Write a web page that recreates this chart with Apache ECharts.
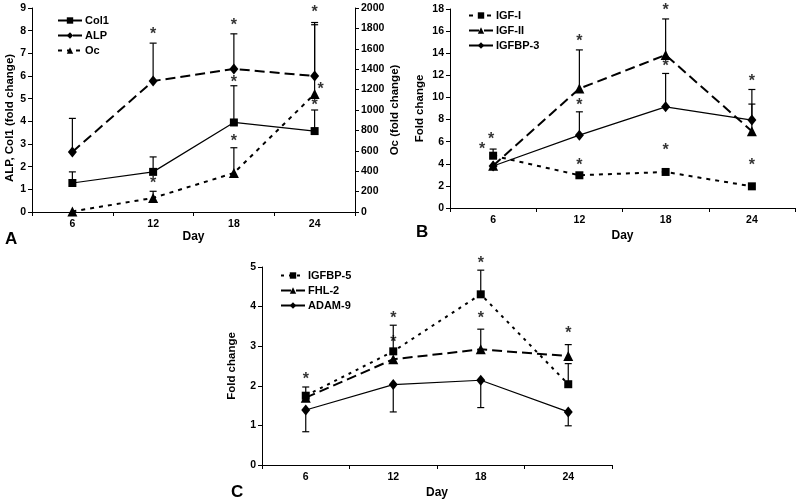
<!DOCTYPE html>
<html><head><meta charset="utf-8">
<script src="https://cdn.jsdelivr.net/npm/echarts@6/dist/echarts.min.js"></script>
<style>html,body{margin:0;padding:0;background:#fff}#c{width:800px;height:503px}</style>
</head><body><div id="c"></div>
<script>
// ---------- data ----------
const days = ['6', '12', '18', '24'];

// Panel A
const col1 = [1.28, 1.77, 3.95, 3.57];
const col1Err = [1.77, 2.43, 5.57, 4.5];
const alp = [2.65, 5.78, 6.31, 6.0];
const alpErr = [4.13, 7.45, 7.86, 8.36];
const oc = [5, 138, 382, 1157];
const ocErr = [null, 203, 630, 1836];
const col1Stars = [null, null, 5.87, 4.87];
const alpStars = [null, 8.0, 8.36, 8.95];
const ocStars = [null, 311, 725, 1238];

// Panel B
const igf1 = [4.73, 2.96, 3.26, 1.96];
const igf1Err = [5.33, 3.17, null, null];
const igf2 = [3.83, 10.8, 13.84, 6.95];
const igf2Err = [null, 14.3, 17.1, 9.4];
const igfbp3 = [3.8, 6.59, 9.15, 7.95];
const igfbp3Err = [null, 8.7, 12.17, 10.72];
const igf1Stars = [5.6, 4.17, 5.53, 4.17];
const igf2Stars = [6.5, 15.35, 18.2, 11.72];
const igfbp3Stars = [null, 9.6, 13.08, null];

// Panel C
const igfbp5 = [1.75, 2.87, 4.31, 2.04];
const igfbp5Err = [1.97, 3.53, 4.92, 2.56];
const fhl2 = [1.70, 2.67, 2.92, 2.75];
const fhl2Err = [null, null, 3.43, 3.04];
const adam9 = [1.39, 2.03, 2.14, 1.34];
const adam9Err = [0.84, 1.34, 1.45, 0.99];
const igfbp5Stars = [2.24, 3.78, 5.18, null];
const fhl2Stars = [null, 3.17, 3.78, 3.4];

const yTicksA = [0, 9, 1];
const yTicksOc = [0, 2000, 200];
const yTicksB = [0, 18, 2];
const yTicksC = [0, 5, 1];

// ---------- styling helpers ----------
const FONT = 'Liberation Sans, Arial, sans-serif';
const K = '#000';
// horizontal pixel shifts of a few asterisks (styling only)
const starShift = { 'A-oc-3': 6, 'B-igf1-0': -11, 'B-igf2-0': -2 };

function errData(means, ends) {
  const out = [];
  means.forEach((m, i) => { if (ends[i] != null && m != null) out.push([i, m, ends[i]]); });
  return out;
}
function errSeries(name, means, ends, xi, yi) {
  return {
    type: 'custom', name: name + ' err', xAxisIndex: xi, yAxisIndex: yi, z: 1, silent: true,
    data: errData(means, ends),
    renderItem: function (params, api) {
      const p0 = api.coord([api.value(0), api.value(1)]);
      const p1 = api.coord([api.value(0), api.value(2)]);
      const w = 3.5;
      return {
        type: 'group', children: [
          { type: 'line', shape: { x1: p0[0], y1: p0[1], x2: p1[0], y2: p1[1] }, style: { stroke: K, lineWidth: 1.2 } },
          { type: 'line', shape: { x1: p1[0] - w, y1: p1[1], x2: p1[0] + w, y2: p1[1] }, style: { stroke: K, lineWidth: 1.2 } }
        ]
      };
    }
  };
}
function starSeries(key, vals, xi, yi) {
  const data = [];
  vals.forEach((v, i) => {
    if (v == null) return;
    const dx = starShift[key + '-' + i] || 0;
    data.push({ value: [i, v], label: { offset: [dx, 3.5] } });
  });
  return {
    type: 'scatter', xAxisIndex: xi, yAxisIndex: yi, z: 5, silent: true, clip: false,
    symbol: 'circle', symbolSize: 1, itemStyle: { color: 'rgba(0,0,0,0)' },
    label: { show: true, position: 'inside', formatter: '*', color: K, fontSize: 16, fontWeight: 'bold', fontFamily: FONT },
    data: data
  };
}
function lineSeries(name, vals, xi, yi, sym, size, dash, width) {
  return {
    type: 'line', name: name, xAxisIndex: xi, yAxisIndex: yi, z: 3,
    data: vals, symbol: sym, symbolSize: size, showSymbol: true,
    lineStyle: { color: K, width: width, type: dash },
    itemStyle: { color: K, borderWidth: 0 },
    emphasis: { disabled: true }
  };
}
function xAxis(gi) {
  return {
    type: 'category', gridIndex: gi, data: days, boundaryGap: true,
    name: 'Day', nameLocation: 'middle', nameGap: gi === 0 ? 19 : 22,
    nameTextStyle: { color: K, fontWeight: 'bold', fontSize: 12, fontFamily: FONT },
    axisLine: { lineStyle: { color: K, width: 1 } },
    axisTick: { show: true, length: 4, lineStyle: { color: K } },
    axisLabel: { color: K, fontSize: 10.5, fontWeight: 'bold', fontFamily: FONT, margin: 7 },
    splitLine: { show: false }
  };
}
function yAxis(gi, t, name, gap, pos, namePad) {
  return {
    type: 'value', gridIndex: gi, min: t[0], max: t[1], interval: t[2], position: pos || 'left',
    name: name, nameLocation: 'middle', nameGap: gap, nameRotate: 90,
    nameTextStyle: { color: K, fontWeight: 'bold', fontSize: 11.5, fontFamily: FONT, padding: namePad || 0 },
    axisLine: { show: true, lineStyle: { color: K, width: 1 } },
    axisTick: { show: true, length: 4, lineStyle: { color: K } },
    axisLabel: { color: K, fontSize: 10.5, fontWeight: 'bold', fontFamily: FONT, margin: 6,
      formatter: function (v) { return String(v); } },
    splitLine: { show: false }
  };
}
function legend(names, left, top) {
  return {
    data: names, left: left, top: top, orient: 'vertical', itemWidth: 24, itemHeight: 8, itemGap: 4,
    textStyle: { color: K, fontSize: 11, fontWeight: 'bold', fontFamily: FONT, padding: [0, 0, 0, -2] },
    selectedMode: false, padding: 0
  };
}

const chart = echarts.init(document.getElementById('c'), null, { renderer: 'canvas' });
chart.setOption({
  backgroundColor: '#fff',
  animation: false,
  grid: [
    { left: 32, top: 8, width: 323, height: 204 },
    { left: 450, top: 9, width: 345, height: 199 },
    { left: 262, top: 267, width: 350, height: 198 }
  ],
  xAxis: [xAxis(0), xAxis(1), xAxis(2)],
  yAxis: [
    yAxis(0, yTicksA, 'ALP, Col1 (fold change)', 13, 'left', [0, 16, 0, 0]),
    yAxis(0, yTicksOc, 'Oc (fold change)', 34, 'right'),
    yAxis(1, yTicksB, 'Fold change', 24),
    yAxis(2, yTicksC, 'Fold change', 24)
  ],
  legend: [
    legend(['Col1', 'ALP', 'Oc'], 57, 15),
    legend(['IGF-I', 'IGF-II', 'IGFBP-3'], 468, 10),
    legend(['IGFBP-5', 'FHL-2', 'ADAM-9'], 280, 270)
  ],
  graphic: [
    { type: 'text', left: 5, top: 231, style: { text: 'A', font: 'bold 17px ' + FONT, fill: K } },
    { type: 'text', left: 416, top: 224, style: { text: 'B', font: 'bold 17px ' + FONT, fill: K } },
    { type: 'text', left: 231, top: 484, style: { text: 'C', font: 'bold 17px ' + FONT, fill: K } }
  ],
  series: [
    errSeries('Col1', col1, col1Err, 0, 0),
    errSeries('ALP', alp, alpErr, 0, 0),
    errSeries('Oc', oc, ocErr, 0, 1),
    lineSeries('Col1', col1, 0, 0, 'rect', 8, 'solid', 1.2),
    lineSeries('ALP', alp, 0, 0, 'diamond', [9, 11], [10, 5], 2),
    lineSeries('Oc', oc, 0, 1, 'triangle', 10, [4, 5], 2),
    starSeries('A-col1', col1Stars, 0, 0),
    starSeries('A-alp', alpStars, 0, 0),
    starSeries('A-oc', ocStars, 0, 1),

    errSeries('IGF-I', igf1, igf1Err, 1, 2),
    errSeries('IGF-II', igf2, igf2Err, 1, 2),
    errSeries('IGFBP-3', igfbp3, igfbp3Err, 1, 2),
    lineSeries('IGF-I', igf1, 1, 2, 'rect', 8, [4, 5], 2),
    lineSeries('IGF-II', igf2, 1, 2, 'triangle', 10, [10, 5], 2),
    lineSeries('IGFBP-3', igfbp3, 1, 2, 'diamond', [9, 11], 'solid', 1.2),
    starSeries('B-igf1', igf1Stars, 1, 2),
    starSeries('B-igf2', igf2Stars, 1, 2),
    starSeries('B-igfbp3', igfbp3Stars, 1, 2),

    errSeries('IGFBP-5', igfbp5, igfbp5Err, 2, 3),
    errSeries('FHL-2', fhl2, fhl2Err, 2, 3),
    errSeries('ADAM-9', adam9, adam9Err, 2, 3),
    lineSeries('IGFBP-5', igfbp5, 2, 3, 'rect', 8, [3, 5], 2),
    lineSeries('FHL-2', fhl2, 2, 3, 'triangle', 10, [10, 5], 2),
    lineSeries('ADAM-9', adam9, 2, 3, 'diamond', [9, 11], 'solid', 1.2),
    starSeries('C-igfbp5', igfbp5Stars, 2, 3),
    starSeries('C-fhl2', fhl2Stars, 2, 3)
  ]
});
</script></body></html>
